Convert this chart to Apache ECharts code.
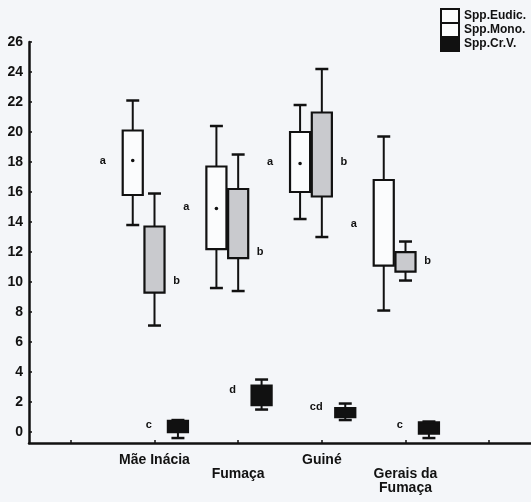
<!DOCTYPE html>
<html>
<head>
<meta charset="utf-8">
<script src="https://cdn.jsdelivr.net/npm/echarts@6/dist/echarts.min.js"></script>
<style>
  html, body { margin: 0; padding: 0; background: #f4f6f9; }
  #chart { width: 531px; height: 502px; }
</style>
</head>
<body>
<div id="chart"></div>
<script>
// locais (eixo x)
var categories = ['Mãe Inácia', 'Fumaça', 'Guiné', 'Gerais da Fumaça'];
var yTicks = [0, 2, 4, 6, 8, 10, 12, 14, 16, 18, 20, 22, 24, 26];
var xTicks = [0, 1, 2, 3, 4, 5];
var xLabelAt = [1, 2, 3, 4];

// [min, Q1, média, Q3, max]
var eudic = [[13.8, 15.8, 18.1, 20.1, 22.1], [9.6, 12.2, 14.9, 17.7, 20.4], [14.2, 16.0, 17.9, 20.0, 21.8], [8.1, 11.1, null, 16.8, 19.7]];
var mono = [[7.1, 9.3, null, 13.7, 15.9], [9.4, 11.6, null, 16.2, 18.5], [13.0, 15.7, null, 21.3, 24.2], [10.1, 10.7, null, 12.0, 12.7]];
var crv = [[-0.4, 0.0, null, 0.75, 0.8], [1.5, 1.8, null, 3.1, 3.5], [0.8, 1.0, null, 1.6, 1.9], [-0.4, -0.1, null, 0.65, 0.7]];

// letras (teste de médias) e onde ficam
var eudicLetters = ['a', 'a', 'a', 'a'];
var monoLetters = ['b', 'b', 'b', 'b'];
var crvLetters = ['c', 'd', 'cd', 'c'];
var eudicLetterY = [18.1, 15.0, 18.0, 13.9];
var monoLetterY = [10.1, 12.0, 18.0, 11.4];
var crvLetterY = [0.5, 2.8, 1.7, 0.5];

var FONT = '"Liberation Sans", Arial, sans-serif';

function rows(stats, letterY) {
    var out = [];
    for (var i = 0; i < stats.length; i++) {
        var s = stats[i];
        out.push([i + 1, s[0], s[1], s[2] == null ? NaN : s[2], s[3], s[4], letterY[i]]);
    }
    return out;
}

function makeRender(offset, fill, letters, letterDx) {
    return function (params, api) {
        var x = api.value(0) + offset;
        var pMin = api.coord([x, api.value(1)]);
        var pQ1 = api.coord([x, api.value(2)]);
        var mid = api.value(3);
        var pQ3 = api.coord([x, api.value(4)]);
        var pMax = api.coord([x, api.value(5)]);
        var pLet = api.coord([x, api.value(6)]);
        var halfW = api.size([0.24, 0])[0] / 2;
        var capHalf = api.size([0.155, 0])[0] / 2;
        var cx = pQ1[0];
        var ln = { stroke: '#111', lineWidth: 2 };
        var children = [
            { type: 'line', shape: { x1: cx, y1: pMax[1], x2: cx, y2: pMin[1] }, style: ln },
            { type: 'line', shape: { x1: cx - capHalf, y1: pMax[1], x2: cx + capHalf, y2: pMax[1] }, style: { stroke: '#111', lineWidth: 2.5 } },
            { type: 'line', shape: { x1: cx - capHalf, y1: pMin[1], x2: cx + capHalf, y2: pMin[1] }, style: { stroke: '#111', lineWidth: 2.5 } },
            { type: 'rect', shape: { x: cx - halfW, y: pQ3[1], width: halfW * 2, height: pQ1[1] - pQ3[1] },
              style: { fill: fill, stroke: '#111', lineWidth: 2.2 } },
            { type: 'text', style: { text: letters[params.dataIndex], x: cx + letterDx, y: pLet[1],
              fill: '#111', font: 'bold 11px ' + FONT, align: 'center', verticalAlign: 'middle' } }
        ];
        if (!isNaN(mid)) {
            var pMid = api.coord([x, mid]);
            children.push({ type: 'circle', shape: { cx: cx, cy: pMid[1], r: 1.8 }, style: { fill: '#111' } });
        }
        return { type: 'group', children: children };
    };
}

var chart = echarts.init(document.getElementById('chart'));
var option = {
    backgroundColor: '#f4f6f9',
    animation: false,
    grid: { left: 29, right: 0, top: 42, bottom: 59 },
    legend: {
        orient: 'vertical',
        left: 440,
        top: 8,
        padding: 0,
        itemWidth: 18,
        itemHeight: 14,
        itemGap: -2,
        textStyle: { fontFamily: FONT, fontWeight: 'bold', fontSize: 12, lineHeight: 13, color: '#111' },
        data: [
            { name: 'Spp.Eudic.', icon: 'rect', itemStyle: { color: '#fbfcfd', borderColor: '#111', borderWidth: 2 } },
            { name: 'Spp.Mono.', icon: 'rect', itemStyle: { color: '#fbfcfd', borderColor: '#111', borderWidth: 2 } },
            { name: 'Spp.Cr.V.', icon: 'rect', itemStyle: { color: '#111', borderColor: '#111', borderWidth: 2 } }
        ]
    },
    xAxis: {
        type: 'value',
        min: -0.5,
        max: 5.5,
        splitLine: { show: false },
        axisLine: { onZero: false, lineStyle: { color: '#111', width: 2.5 } },
        axisTick: { inside: true, length: 3, customValues: xTicks, lineStyle: { color: '#111', width: 1.5 } },
        axisLabel: {
            customValues: xLabelAt,
            margin: 10,
            color: '#111',
            fontFamily: FONT,
            fontWeight: 'bold',
            fontSize: 14,
            lineHeight: 14,
            formatter: function (v) {
                var name = categories[v - 1];
                if (!name) return '';
                name = name.replace('Gerais da ', 'Gerais da\n');
                return (v % 2 === 0) ? '\n' + name : name;
            }
        }
    },
    yAxis: {
        type: 'value',
        min: -0.73,
        max: 26,
        splitLine: { show: false },
        axisLine: { onZero: false, lineStyle: { color: '#111', width: 2.5 } },
        axisTick: { inside: true, length: 3, customValues: yTicks, lineStyle: { color: '#111', width: 1.5 } },
        axisLabel: {
            customValues: yTicks,
            margin: 6,
            color: '#111',
            fontFamily: FONT,
            fontWeight: 'bold',
            fontSize: 14
        }
    },
    series: [
        { name: 'Spp.Eudic.', type: 'custom', renderItem: makeRender(-0.26, '#fbfcfd', eudicLetters, -30),
          itemStyle: { color: '#fbfcfd' }, encode: { x: 0, y: [1, 5] }, data: rows(eudic, eudicLetterY) },
        { name: 'Spp.Mono.', type: 'custom', renderItem: makeRender(0, '#c9cace', monoLetters, 22),
          itemStyle: { color: '#c9cace' }, encode: { x: 0, y: [1, 5] }, data: rows(mono, monoLetterY) },
        { name: 'Spp.Cr.V.', type: 'custom', renderItem: makeRender(0.28, '#111', crvLetters, -29),
          itemStyle: { color: '#111' }, encode: { x: 0, y: [1, 5] }, data: rows(crv, crvLetterY) }
    ]
};
chart.setOption(option);
</script>
</body>
</html>
